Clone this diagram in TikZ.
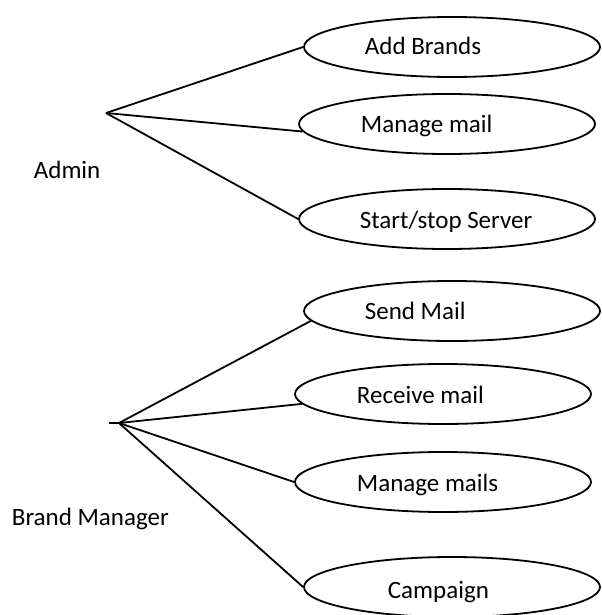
\documentclass[tikz,border=0pt]{standalone}
\usepackage{fontspec}
\setmainfont{Carlito}
\usetikzlibrary{shapes.geometric}
\begin{document}
\begin{tikzpicture}[x=0.5pt, y=-0.5pt, line width=0.9pt,
	usecase/.style={shape=ellipse, draw=black, minimum width=148pt, minimum height=30pt, inner sep=0pt},
	txt/.style={anchor=base west, inner sep=0pt, font=\fontsize{12.5}{15}\selectfont}]
	\useasboundingbox (0,0) rectangle (601,615);

	% Admin
	\coordinate                      (0)  at (106,113);
	\node[usecase]                   (1)  at (452,47)  {};
	\node[usecase]                   (2)  at (447,124) {};
	\node[usecase]                   (3)  at (447,219) {};
	\node[txt]                       (0t) at (33,178)  {Admin};
	\node[txt]                       (1t) at (364,55)  {Add Brands};
	\node[txt]                       (2t) at (360,133) {Manage mail};
	\node[txt]                       (3t) at (359,228) {Start/stop Server};

	% Brand Manager
	\coordinate                      (4s) at (109,423);
	\coordinate                      (4)  at (119,423);
	\node[usecase]                   (5)  at (452,311) {};
	\node[usecase]                   (6)  at (443,394) {};
	\node[usecase]                   (7)  at (443,482) {};
	\node[usecase]                   (8)  at (452,587) {};
	\node[txt]                       (4t) at (11,525)  {Brand Manager};
	\node[txt]                       (5t) at (364,319) {Send Mail};
	\node[txt]                       (6t) at (356,403) {Receive mail};
	\node[txt]                       (7t) at (356,491) {Manage mails};
	\node[txt]                       (8t) at (387,598) {Campaign};

	\path [-] (0)  edge (1.west);
	\path [-] (0)  edge (2.183);
	\path [-] (0)  edge (3.west);
	\path [-] (4s) edge (4);
	\path [-] (4)  edge (5.184);
	\path [-] (4)  edge (6.184);
	\path [-] (4)  edge (7.west);
	\path [-] (4)  edge (8.west);
\end{tikzpicture}
\end{document}
